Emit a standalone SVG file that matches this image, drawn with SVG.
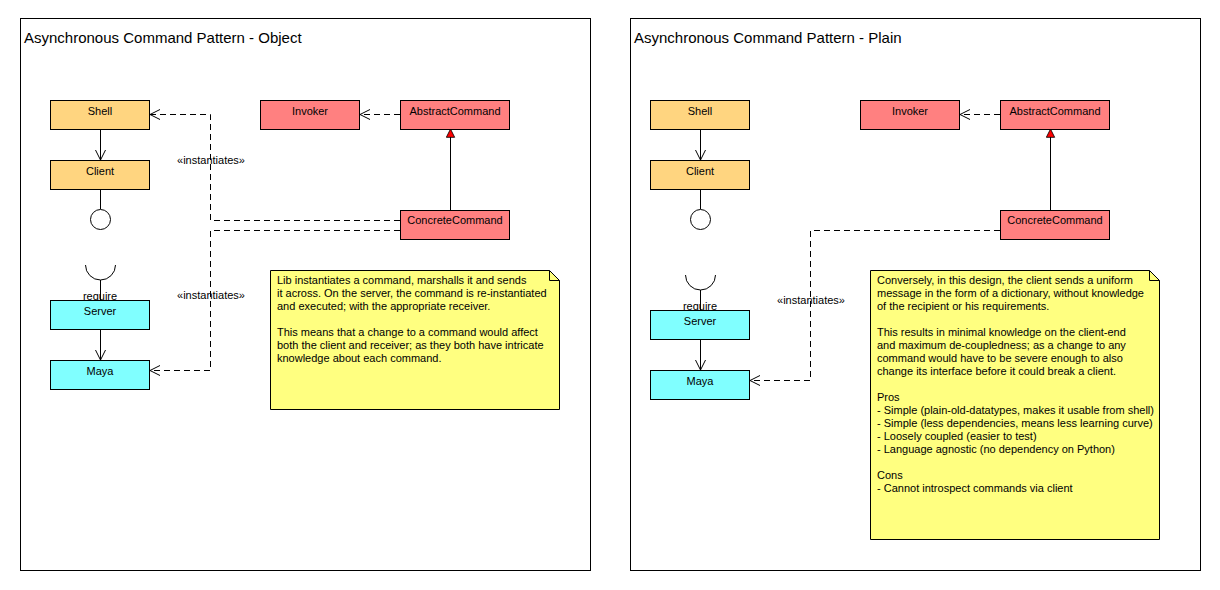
<svg xmlns="http://www.w3.org/2000/svg" width="1220" height="590" viewBox="0 0 1220 590">
<defs>
<style>
text{font-family:"Liberation Sans",Arial,sans-serif;font-size:11px;fill:#000}
.title{font-size:15px}
.frame{fill:#fff;stroke:#000;stroke-width:1}
.n{stroke:#000;stroke-width:1}
.o{fill:#FFD580}.r{fill:#FF8080}.c{fill:#80FFFF}
.note{fill:#FFFF80;stroke:#000;stroke-width:1}
.ln{fill:none;stroke:#000;stroke-width:1}
.d{fill:none;stroke:#000;stroke-width:1;stroke-dasharray:6,4}
.lbl{text-anchor:middle}
</style>
<marker id="open" viewBox="0 0 12 12" refX="11" refY="6" markerWidth="12" markerHeight="12" markerUnits="userSpaceOnUse" orient="auto">
<path d="M1,1 L11,6 L1,11" fill="none" stroke="#000" stroke-width="1"/>
</marker>
<marker id="tri" viewBox="0 0 12 12" refX="11" refY="6" markerWidth="12" markerHeight="10" markerUnits="userSpaceOnUse" orient="auto">
<path d="M1,1 L11,6 L1,11 Z" fill="#FF0000" stroke="#000" stroke-width="1"/>
</marker>
</defs>
<rect width="1220" height="590" fill="#fff"/>
<g id="frame-object">
<rect class="frame" x="20.5" y="18.5" width="570" height="552"/>
<text class="title" x="24" y="43">Asynchronous Command Pattern - Object</text>
</g>
<g id="frame-plain">
<rect class="frame" x="630.5" y="18.5" width="570" height="552"/>
<text class="title" x="634" y="43">Asynchronous Command Pattern - Plain</text>
</g>
<g id="connectors">
<line class="ln" x1="100.5" y1="129" x2="100.5" y2="160" marker-end="url(#open)"/>
<line class="ln" x1="100.5" y1="189" x2="100.5" y2="209"/>
<line class="ln" x1="100.5" y1="280" x2="100.5" y2="300"/>
<line class="ln" x1="100.5" y1="329" x2="100.5" y2="360" marker-end="url(#open)"/>
<line class="d" x1="400" y1="114.5" x2="360" y2="114.5" marker-end="url(#open)"/>
<line class="ln" x1="450.5" y1="210" x2="450.5" y2="129" marker-end="url(#tri)"/>
<polyline class="d" points="400,220.5 210.5,220.5 210.5,114.5 150,114.5" marker-end="url(#open)"/>
<polyline class="d" points="400,230.5 210.5,230.5 210.5,370.5 150,370.5" marker-end="url(#open)"/>
<text class="lbl" x="211" y="164">«instantiates»</text>
<text class="lbl" x="211" y="299">«instantiates»</text>
<line class="ln" x1="700.5" y1="129" x2="700.5" y2="160" marker-end="url(#open)"/>
<line class="ln" x1="700.5" y1="189" x2="700.5" y2="209"/>
<line class="ln" x1="700.5" y1="290" x2="700.5" y2="310"/>
<line class="ln" x1="700.5" y1="339" x2="700.5" y2="370" marker-end="url(#open)"/>
<line class="d" x1="1000" y1="114.5" x2="960" y2="114.5" marker-end="url(#open)"/>
<line class="ln" x1="1050.5" y1="210" x2="1050.5" y2="129" marker-end="url(#tri)"/>
<polyline class="d" points="1000,230.5 810.5,230.5 810.5,380.5 750,380.5" marker-end="url(#open)"/>
<text class="lbl" x="811" y="304">«instantiates»</text>
</g>
<g id="L-shell"><rect class="n o" x="50.5" y="100.5" width="99" height="29"/><text class="lbl" x="100" y="115">Shell</text></g>
<g id="L-client"><rect class="n o" x="50.5" y="160.5" width="99" height="29"/><text class="lbl" x="100" y="175">Client</text></g>
<g id="L-provided"><circle class="ln" cx="100.5" cy="219.5" r="10"/></g>
<g id="L-required"><path class="ln" d="M85.5,265 A15,15 0 0 0 115.5,265"/><text class="lbl" x="100" y="300">require</text></g>
<g id="L-server"><rect class="n c" x="50.5" y="300.5" width="99" height="29"/><text class="lbl" x="100" y="315">Server</text></g>
<g id="L-maya"><rect class="n c" x="50.5" y="360.5" width="99" height="29"/><text class="lbl" x="100" y="375">Maya</text></g>
<g id="L-invoker"><rect class="n r" x="260.5" y="100.5" width="99" height="29"/><text class="lbl" x="310" y="115">Invoker</text></g>
<g id="L-abstract"><rect class="n r" x="400.5" y="100.5" width="109" height="29"/><text class="lbl" x="455" y="115">AbstractCommand</text></g>
<g id="L-concrete"><rect class="n r" x="400.5" y="210.5" width="109" height="29"/><text class="lbl" x="455" y="224">ConcreteCommand</text></g>
<g id="L-note">
<path class="note" d="M270.5,270.5 H549.5 L559.5,280.5 V409.5 H270.5 Z"/>
<path class="ln" d="M549.5,270.5 V280.5 H559.5"/>
<text x="277" y="284">Lib instantiates a command, marshalls it and sends</text>
<text x="277" y="297">it across. On the server, the command is re-instantiated</text>
<text x="277" y="310">and executed; with the appropriate receiver.</text>
<text x="277" y="336">This means that a change to a command would affect</text>
<text x="277" y="349">both the client and receiver; as they both have intricate</text>
<text x="277" y="362">knowledge about each command.</text>
</g>
<g id="R-shell"><rect class="n o" x="650.5" y="100.5" width="99" height="29"/><text class="lbl" x="700" y="115">Shell</text></g>
<g id="R-client"><rect class="n o" x="650.5" y="160.5" width="99" height="29"/><text class="lbl" x="700" y="175">Client</text></g>
<g id="R-provided"><circle class="ln" cx="700.5" cy="219.5" r="10"/></g>
<g id="R-required"><path class="ln" d="M685.5,275 A15,15 0 0 0 715.5,275"/><text class="lbl" x="700" y="310">require</text></g>
<g id="R-server"><rect class="n c" x="650.5" y="310.5" width="99" height="29"/><text class="lbl" x="700" y="325">Server</text></g>
<g id="R-maya"><rect class="n c" x="650.5" y="370.5" width="99" height="29"/><text class="lbl" x="700" y="385">Maya</text></g>
<g id="R-invoker"><rect class="n r" x="860.5" y="100.5" width="99" height="29"/><text class="lbl" x="910" y="115">Invoker</text></g>
<g id="R-abstract"><rect class="n r" x="1000.5" y="100.5" width="109" height="29"/><text class="lbl" x="1055" y="115">AbstractCommand</text></g>
<g id="R-concrete"><rect class="n r" x="1000.5" y="210.5" width="109" height="29"/><text class="lbl" x="1055" y="224">ConcreteCommand</text></g>
<g id="R-note">
<path class="note" d="M870.5,270.5 H1149.5 L1159.5,280.5 V539.5 H870.5 Z"/>
<path class="ln" d="M1149.5,270.5 V280.5 H1159.5"/>
<text x="877" y="284">Conversely, in this design, the client sends a uniform</text>
<text x="877" y="297">message in the form of a dictionary, without knowledge</text>
<text x="877" y="310">of the recipient or his requirements.</text>
<text x="877" y="336">This results in minimal knowledge on the client-end</text>
<text x="877" y="349">and maximum de-coupledness; as a change to any</text>
<text x="877" y="362">command would have to be severe enough to also</text>
<text x="877" y="375">change its interface before it could break a client.</text>
<text x="877" y="401">Pros</text>
<text x="877" y="414">- Simple (plain-old-datatypes, makes it usable from shell)</text>
<text x="877" y="427">- Simple (less dependencies, means less learning curve)</text>
<text x="877" y="440">- Loosely coupled (easier to test)</text>
<text x="877" y="453">- Language agnostic (no dependency on Python)</text>
<text x="877" y="479">Cons</text>
<text x="877" y="492">- Cannot introspect commands via client</text>
</g>
</svg>
